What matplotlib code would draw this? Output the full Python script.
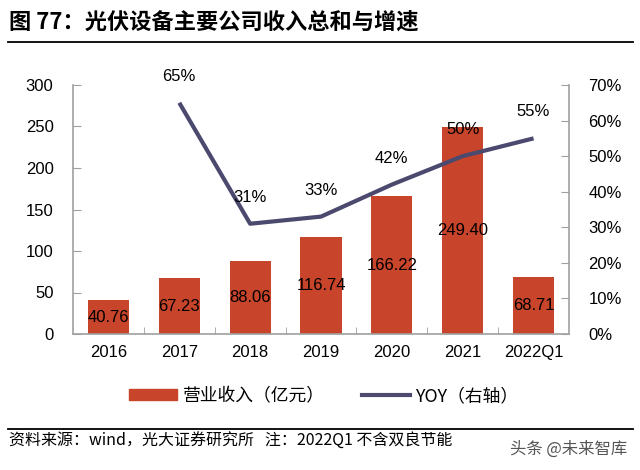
import matplotlib
matplotlib.use("Agg")
import matplotlib.pyplot as plt
from matplotlib.lines import Line2D
from matplotlib.patches import Patch

categories = ["2016", "2017", "2018", "2019", "2020", "2021", "2022Q1"]
revenue = [40.76, 67.23, 88.06, 116.74, 166.22, 249.40, 68.71]
yoy_cats = ["2017", "2018", "2019", "2020", "2021", "2022Q1"]
yoy = [65, 31, 33, 42, 50, 55]
left_ticks = [0, 50, 100, 150, 200, 250, 300]
right_ticks = [0, 10, 20, 30, 40, 50, 60, 70]

FAM = ["Liberation Sans", "Noto Sans CJK SC", "DejaVu Sans"]
plt.rcParams["font.family"] = FAM

BAR = "#c8442a"
LINE = "#4b4a6e"
GRAY = "#a0a0a0"

fig = plt.figure(figsize=(6.4, 4.7), dpi=100)
ax = fig.add_axes([73/640, 1-334/470, (569-73)/640, (334-85)/470])
ax2 = ax.twinx()

x = list(range(len(categories)))
ax.bar(x, revenue, width=0.58, color=BAR, zorder=2)
for xi, v in zip(x, revenue):
    ax.text(xi, v/2, f"{v:.2f}", ha="center", va="center", fontsize=12, color="black", zorder=5)

ax.set_xlim(-0.5, len(categories)-0.5)
ax.set_ylim(0, 300)
ax.set_yticks(left_ticks)
ax.set_xticks(x)
ax.set_xticklabels(categories)
ax.set_xticks([i + 0.5 for i in range(len(categories)-1)], minor=True)
ax.tick_params(axis="x", which="major", length=0, pad=8, labelsize=12)
ax.tick_params(axis="x", which="minor", length=5, direction="in", color=GRAY)
ax.tick_params(axis="y", length=6, direction="in", color=GRAY, labelsize=12, pad=14)
for s in ["top", "right"]:
    ax.spines[s].set_visible(False)
for s in ["left", "bottom"]:
    ax.spines[s].set_color(GRAY)
    ax.spines[s].set_linewidth(1.2)

yx = [categories.index(c) for c in yoy_cats]
ax2.plot(yx, yoy, color=LINE, linewidth=3, zorder=3, solid_capstyle="butt")
for xi, v in zip(yx, yoy):
    ax2.annotate(f"{v}%", (xi, v), xytext=(0, 19), textcoords="offset points",
                 ha="center", va="center", fontsize=12, color="black")
ax2.set_ylim(0, 70)
ax2.set_yticks(right_ticks)
ax2.set_yticklabels([f"{t}%" for t in right_ticks])
ax2.tick_params(axis="y", length=6, direction="in", color=GRAY, labelsize=12, pad=14)
for s in ["top", "left", "bottom"]:
    ax2.spines[s].set_visible(False)
ax2.spines["right"].set_color(GRAY)
ax2.spines["right"].set_linewidth(1.2)

handles = [Patch(facecolor=BAR, edgecolor=BAR),
           Line2D([0], [0], color=LINE, linewidth=3)]
fig.legend(handles, ["营业收入（亿元）", "YOY（右轴）"], loc="center",
           bbox_to_anchor=(324/640, 1-396/470), ncol=2, frameon=False,
           handlelength=2.7, handleheight=0.55, handletextpad=0.3, columnspacing=2.1,
           prop={"family": ["Noto Sans CJK SC"], "size": 12.8})

fig.text(9/640, 1-22/470, "图 77：光伏设备主要公司收入总和与增速", fontsize=16,
         fontweight="bold", ha="left", va="center", family=["Noto Sans CJK SC"])
fig.add_artist(Line2D([8/640, 633/640], [1-42/470, 1-42/470], color="black", linewidth=1.3))
fig.add_artist(Line2D([8/640, 633/640], [1-429/470, 1-429/470], color="black", linewidth=1.3))
fig.text(9/640, 1-441/470, "资料来源：wind，光大证券研究所   注：2022Q1 不含双良节能", fontsize=11.5,
         ha="left", va="center", family=["Noto Sans CJK SC"])
fig.text(627/640, 1-449/470, "头条 @未来智库", fontsize=11.8, color="#555555",
         ha="right", va="center", family=["Noto Sans CJK SC"])

fig.savefig("out.png", dpi=100)
